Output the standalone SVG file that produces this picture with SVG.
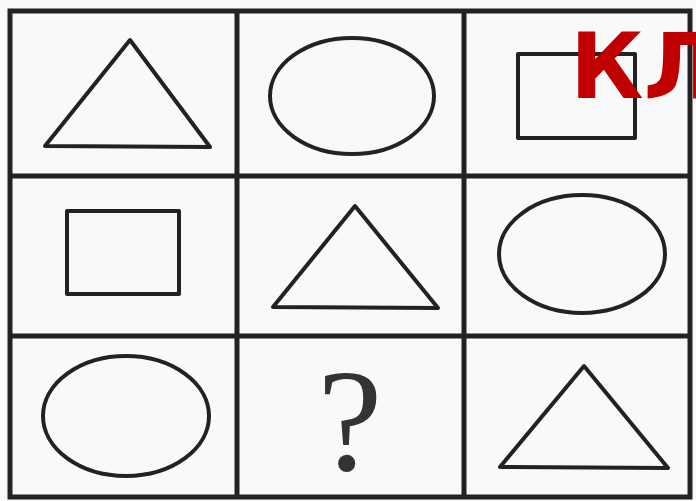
<svg xmlns="http://www.w3.org/2000/svg" width="696" height="501" viewBox="0 0 696 501">
<style>
.grid{stroke:#222;stroke-width:5;fill:none}
.sh{stroke:#222;stroke-width:4;fill:none;stroke-linejoin:round}
</style>
<rect x="0" y="0" width="696" height="501" fill="#f9f9f9"/>
<g id="grid" class="grid">
<rect x="10" y="11" width="680" height="486"/>
<line x1="237" y1="11" x2="237" y2="497"/>
<line x1="464" y1="11" x2="464" y2="497"/>
<line x1="10" y1="176" x2="690" y2="176"/>
<line x1="10" y1="336" x2="690" y2="336"/>
</g>
<g id="cell11"><polygon class="sh" points="130,40 45,146 210,147"/></g>
<g id="cell12"><ellipse class="sh" cx="352" cy="96" rx="82" ry="58"/></g>
<g id="cell13"><rect class="sh" x="518" y="54" width="117" height="84"/></g>
<g id="cell21"><rect class="sh" x="67" y="211" width="112" height="83"/></g>
<g id="cell22"><polygon class="sh" points="355,206 273,307 438,308"/></g>
<g id="cell23"><ellipse class="sh" cx="582" cy="254" rx="83" ry="59"/></g>
<g id="cell31"><ellipse class="sh" cx="126" cy="416" rx="83" ry="60"/></g>
<g id="cell32"><text x="350" y="470" font-family="Liberation Serif, serif" font-size="146" fill="#333" text-anchor="middle">?</text></g>
<g id="cell33"><polygon class="sh" points="584,366 500,467 668,468"/></g>
<text x="570" y="98" font-family="DejaVu Sans, sans-serif" font-weight="bold" font-size="90" fill="#c00000">КЛ</text>
</svg>
